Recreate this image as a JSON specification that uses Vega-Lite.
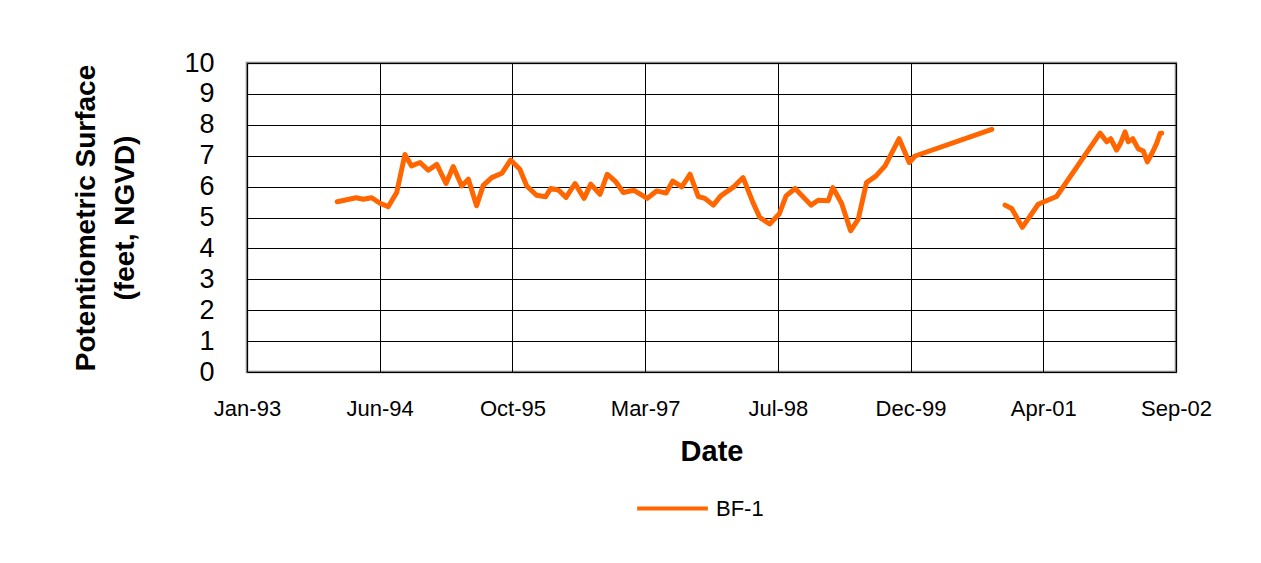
{
  "$schema": "https://vega.github.io/schema/vega-lite/v6.json",
  "width": 929,
  "height": 309,
  "autosize": "none",
  "padding": {"left": 247, "top": 63, "right": 85, "bottom": 191},
  "background": "white",
  "config": {
    "font": "Liberation Sans",
    "view": {"stroke": "#808080", "strokeWidth": 2.5},
    "axis": {"labelColor": "black", "titleColor": "black", "domain": false, "ticks": false, "gridColor": "black", "gridWidth": 1, "gridOpacity": 1}
  },
  "data": {
    "values": [
      {"date": "1994-01-06", "level": 5.51, "seg": 1, "well": "BF-1"},
      {"date": "1994-03-18", "level": 5.64, "seg": 1, "well": "BF-1"},
      {"date": "1994-04-14", "level": 5.59, "seg": 1, "well": "BF-1"},
      {"date": "1994-05-16", "level": 5.64, "seg": 1, "well": "BF-1"},
      {"date": "1994-06-16", "level": 5.46, "seg": 1, "well": "BF-1"},
      {"date": "1994-07-17", "level": 5.35, "seg": 1, "well": "BF-1"},
      {"date": "1994-08-18", "level": 5.81, "seg": 1, "well": "BF-1"},
      {"date": "1994-09-18", "level": 7.04, "seg": 1, "well": "BF-1"},
      {"date": "1994-10-13", "level": 6.67, "seg": 1, "well": "BF-1"},
      {"date": "1994-11-14", "level": 6.78, "seg": 1, "well": "BF-1"},
      {"date": "1994-12-15", "level": 6.53, "seg": 1, "well": "BF-1"},
      {"date": "1995-01-16", "level": 6.72, "seg": 1, "well": "BF-1"},
      {"date": "1995-02-20", "level": 6.10, "seg": 1, "well": "BF-1"},
      {"date": "1995-03-19", "level": 6.65, "seg": 1, "well": "BF-1"},
      {"date": "1995-04-20", "level": 6.02, "seg": 1, "well": "BF-1"},
      {"date": "1995-05-15", "level": 6.24, "seg": 1, "well": "BF-1"},
      {"date": "1995-06-15", "level": 5.38, "seg": 1, "well": "BF-1"},
      {"date": "1995-07-10", "level": 6.04, "seg": 1, "well": "BF-1"},
      {"date": "1995-08-11", "level": 6.29, "seg": 1, "well": "BF-1"},
      {"date": "1995-09-18", "level": 6.43, "seg": 1, "well": "BF-1"},
      {"date": "1995-10-21", "level": 6.86, "seg": 1, "well": "BF-1"},
      {"date": "1995-11-25", "level": 6.56, "seg": 1, "well": "BF-1"},
      {"date": "1995-12-21", "level": 6.02, "seg": 1, "well": "BF-1"},
      {"date": "1996-01-27", "level": 5.72, "seg": 1, "well": "BF-1"},
      {"date": "1996-03-01", "level": 5.67, "seg": 1, "well": "BF-1"},
      {"date": "1996-03-20", "level": 5.94, "seg": 1, "well": "BF-1"},
      {"date": "1996-04-18", "level": 5.89, "seg": 1, "well": "BF-1"},
      {"date": "1996-05-17", "level": 5.65, "seg": 1, "well": "BF-1"},
      {"date": "1996-06-20", "level": 6.10, "seg": 1, "well": "BF-1"},
      {"date": "1996-07-24", "level": 5.62, "seg": 1, "well": "BF-1"},
      {"date": "1996-08-18", "level": 6.08, "seg": 1, "well": "BF-1"},
      {"date": "1996-09-22", "level": 5.75, "seg": 1, "well": "BF-1"},
      {"date": "1996-10-19", "level": 6.40, "seg": 1, "well": "BF-1"},
      {"date": "1996-11-21", "level": 6.15, "seg": 1, "well": "BF-1"},
      {"date": "1996-12-19", "level": 5.81, "seg": 1, "well": "BF-1"},
      {"date": "1997-01-28", "level": 5.88, "seg": 1, "well": "BF-1"},
      {"date": "1997-03-19", "level": 5.62, "seg": 1, "well": "BF-1"},
      {"date": "1997-04-23", "level": 5.86, "seg": 1, "well": "BF-1"},
      {"date": "1997-05-29", "level": 5.79, "seg": 1, "well": "BF-1"},
      {"date": "1997-06-23", "level": 6.18, "seg": 1, "well": "BF-1"},
      {"date": "1997-07-27", "level": 5.99, "seg": 1, "well": "BF-1"},
      {"date": "1997-08-27", "level": 6.40, "seg": 1, "well": "BF-1"},
      {"date": "1997-09-27", "level": 5.68, "seg": 1, "well": "BF-1"},
      {"date": "1997-10-22", "level": 5.62, "seg": 1, "well": "BF-1"},
      {"date": "1997-11-23", "level": 5.40, "seg": 1, "well": "BF-1"},
      {"date": "1997-12-21", "level": 5.70, "seg": 1, "well": "BF-1"},
      {"date": "1998-02-09", "level": 6.00, "seg": 1, "well": "BF-1"},
      {"date": "1998-03-15", "level": 6.29, "seg": 1, "well": "BF-1"},
      {"date": "1998-04-21", "level": 5.49, "seg": 1, "well": "BF-1"},
      {"date": "1998-05-17", "level": 5.00, "seg": 1, "well": "BF-1"},
      {"date": "1998-06-23", "level": 4.79, "seg": 1, "well": "BF-1"},
      {"date": "1998-07-29", "level": 5.11, "seg": 1, "well": "BF-1"},
      {"date": "1998-08-24", "level": 5.70, "seg": 1, "well": "BF-1"},
      {"date": "1998-09-27", "level": 5.94, "seg": 1, "well": "BF-1"},
      {"date": "1998-11-26", "level": 5.40, "seg": 1, "well": "BF-1"},
      {"date": "1998-12-23", "level": 5.56, "seg": 1, "well": "BF-1"},
      {"date": "1999-01-30", "level": 5.54, "seg": 1, "well": "BF-1"},
      {"date": "1999-02-16", "level": 5.97, "seg": 1, "well": "BF-1"},
      {"date": "1999-03-21", "level": 5.46, "seg": 1, "well": "BF-1"},
      {"date": "1999-04-24", "level": 4.57, "seg": 1, "well": "BF-1"},
      {"date": "1999-05-23", "level": 4.95, "seg": 1, "well": "BF-1"},
      {"date": "1999-06-23", "level": 6.13, "seg": 1, "well": "BF-1"},
      {"date": "1999-07-28", "level": 6.34, "seg": 1, "well": "BF-1"},
      {"date": "1999-09-01", "level": 6.67, "seg": 1, "well": "BF-1"},
      {"date": "1999-10-24", "level": 7.55, "seg": 1, "well": "BF-1"},
      {"date": "1999-12-01", "level": 6.78, "seg": 1, "well": "BF-1"},
      {"date": "1999-12-23", "level": 6.99, "seg": 1, "well": "BF-1"},
      {"date": "2000-10-07", "level": 7.85, "seg": 1, "well": "BF-1"},
      {"date": "2000-11-26", "level": 5.40, "seg": 2, "well": "BF-1"},
      {"date": "2000-12-21", "level": 5.29, "seg": 2, "well": "BF-1"},
      {"date": "2001-01-30", "level": 4.68, "seg": 2, "well": "BF-1"},
      {"date": "2001-03-31", "level": 5.43, "seg": 2, "well": "BF-1"},
      {"date": "2001-06-08", "level": 5.68, "seg": 2, "well": "BF-1"},
      {"date": "2001-11-19", "level": 7.73, "seg": 2, "well": "BF-1"},
      {"date": "2001-12-14", "level": 7.45, "seg": 2, "well": "BF-1"},
      {"date": "2001-12-29", "level": 7.55, "seg": 2, "well": "BF-1"},
      {"date": "2002-01-20", "level": 7.18, "seg": 2, "well": "BF-1"},
      {"date": "2002-02-04", "level": 7.40, "seg": 2, "well": "BF-1"},
      {"date": "2002-02-21", "level": 7.77, "seg": 2, "well": "BF-1"},
      {"date": "2002-03-05", "level": 7.45, "seg": 2, "well": "BF-1"},
      {"date": "2002-03-22", "level": 7.55, "seg": 2, "well": "BF-1"},
      {"date": "2002-04-12", "level": 7.22, "seg": 2, "well": "BF-1"},
      {"date": "2002-05-01", "level": 7.15, "seg": 2, "well": "BF-1"},
      {"date": "2002-05-16", "level": 6.80, "seg": 2, "well": "BF-1"},
      {"date": "2002-06-05", "level": 7.12, "seg": 2, "well": "BF-1"},
      {"date": "2002-06-20", "level": 7.40, "seg": 2, "well": "BF-1"},
      {"date": "2002-07-03", "level": 7.72, "seg": 2, "well": "BF-1"},
      {"date": "2002-07-09", "level": 7.73, "seg": 2, "well": "BF-1"}
    ]
  },
  "mark": {"type": "line", "strokeWidth": 5, "strokeJoin": "round", "strokeCap": "round"},
  "encoding": {
    "x": {
      "field": "date",
      "type": "temporal",
      "title": "Date",
      "scale": {
        "type": "utc",
        "domain": [
          {"year": 1993, "month": 1, "date": 31, "utc": true},
          {"year": 2002, "month": 9, "date": 1, "utc": true}
        ],
        "nice": false
      },
      "axis": {
        "values": [
          {"year": 1993, "month": 1, "date": 31, "utc": true},
          {"year": 1994, "month": 6, "date": 15, "utc": true},
          {"year": 1995, "month": 10, "date": 28, "utc": true},
          {"year": 1997, "month": 3, "date": 11, "utc": true},
          {"year": 1998, "month": 7, "date": 24, "utc": true},
          {"year": 1999, "month": 12, "date": 6, "utc": true},
          {"year": 2001, "month": 4, "date": 19, "utc": true},
          {"year": 2002, "month": 9, "date": 1, "utc": true}
        ],
        "format": "%b-%y",
        "labelFontSize": 22,
        "labelPadding": 26,
        "labelFlush": false,
        "labelOverlap": false,
        "titleFontSize": 29,
        "titleFontWeight": "bold",
        "titlePadding": 18,
        "grid": true
      }
    },
    "y": {
      "field": "level",
      "type": "quantitative",
      "title": ["Potentiometric Surface", "(feet, NGVD)"],
      "scale": {"domain": [0, 10], "nice": false, "zero": true},
      "axis": {
        "values": [0, 1, 2, 3, 4, 5, 6, 7, 8, 9, 10],
        "labelFontSize": 27,
        "labelPadding": 33,
        "titleFontSize": 28,
        "titleFontWeight": "bold",
        "titleLineHeight": 39,
        "titlePadding": 44,
        "grid": true
      }
    },
    "detail": {"field": "seg", "type": "nominal"},
    "color": {
      "field": "well",
      "type": "nominal",
      "scale": {"range": ["#FF6600"]},
      "legend": {
        "title": null,
        "orient": "none",
        "legendX": 388,
        "legendY": 408,
        "symbolType": "stroke",
        "symbolSize": 5000,
        "symbolStrokeWidth": 4,
        "labelFontSize": 22,
        "labelOffset": 6,
        "labelColor": "black"
      }
    }
  }
}
